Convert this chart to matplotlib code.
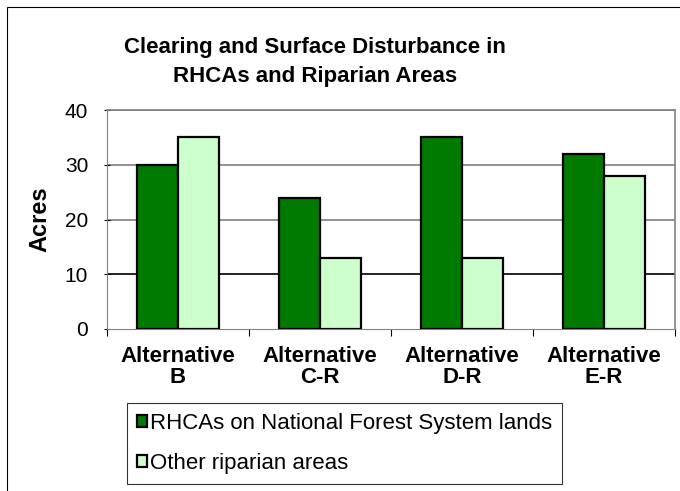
import numpy as np
import matplotlib.pyplot as plt
from matplotlib.patches import Rectangle

plt.rcParams['font.family'] = ['Liberation Sans', 'DejaVu Sans']

# data
categories = ["Alternative\nB", "Alternative\nC-R", "Alternative\nD-R", "Alternative\nE-R"]
rhca_nfs = [30, 24, 35, 32]
other_riparian = [35, 13, 13, 28]
series_names = ["RHCAs on National Forest System lands", "Other riparian areas"]
y_ticks = [0, 10, 20, 30, 40]

fig = plt.figure(figsize=(6.8, 4.91), dpi=100)
# outer chart border
fig.patches.append(Rectangle((7 / 680, -0.01), 1.0, 1 - 7 / 491 + 0.01, transform=fig.transFigure,
                             fill=False, edgecolor="black", lw=0.8))

ax = fig.add_axes([107 / 680, 1 - 329 / 491, (675 - 107) / 680, (329 - 110) / 491])

x = np.arange(len(categories))
w = 1 / 3.5
ax.bar(x - w / 2, rhca_nfs, w, color="#007A00", edgecolor="black", lw=1.6, zorder=3,
       label=series_names[0])
ax.bar(x + w / 2, other_riparian, w, color="#CCFFCC", edgecolor="black", lw=1.6, zorder=3,
       label=series_names[1])

ax.set_xlim(-0.5, len(categories) - 0.5)
ax.set_ylim(0, 40)
ax.set_yticks(y_ticks)
ax.tick_params(axis="y", labelsize=15, length=5, direction="inout", pad=11)
ax.set_xticks(np.arange(len(categories) + 1) - 0.5, minor=False)
ax.set_xticklabels([])
ax.tick_params(axis="x", length=5, direction="out")
ax.set_xticks(x, minor=True)
ax.set_xticklabels(categories, minor=True, fontsize=16, fontweight="bold", linespacing=1.0)
ax.tick_params(axis="x", which="minor", length=0, pad=12)

for yv in y_ticks[1:]:
    ax.axhline(yv, color="black" if yv == 10 else "#808080", lw=1.2, zorder=1)

for s in ["top", "right"]:
    ax.spines[s].set_color("#808080")
    ax.spines[s].set_linewidth(1.2)
ax.spines["left"].set_color("#808080")
ax.spines["bottom"].set_color("#808080")

ax.set_ylabel("Acres", fontsize=17, fontweight="bold", labelpad=10)

fig.text(315 / 680, 1 - 62 / 491, "Clearing and Surface Disturbance in\nRHCAs and Riparian Areas",
         ha="center", va="center", fontsize=16, fontweight="bold", linespacing=1.45)

leg = fig.legend(loc="upper left", bbox_to_anchor=(127 / 680, 1 - 403 / 491), fontsize=16,
                 frameon=True, fancybox=False, handlelength=0.45, handleheight=0.45,
                 handletextpad=0.15, labelspacing=0.85, borderpad=0.45, borderaxespad=0)
leg.get_frame().set_edgecolor("black")
leg.get_frame().set_linewidth(0.8)

fig.savefig("out.png", dpi=100)
